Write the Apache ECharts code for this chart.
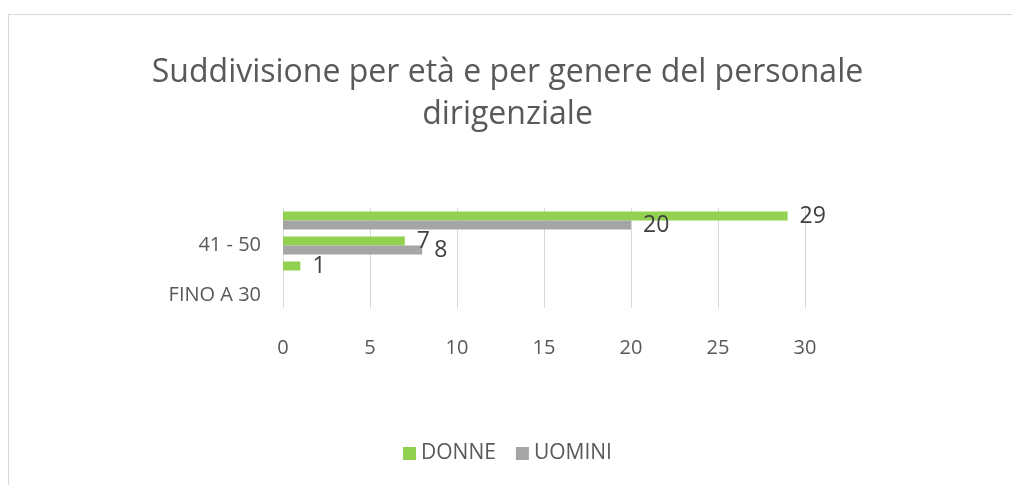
<!DOCTYPE html>
<html>
<head>
<meta charset="utf-8">
<script src="https://cdn.jsdelivr.net/npm/echarts@6/dist/echarts.min.js"></script>
<style>
html,body{margin:0;padding:0;background:#fff;}
#wrap{position:relative;width:1015px;height:485px;overflow:hidden;}
#frame{position:absolute;left:8px;top:14px;width:1004px;height:480px;border-left:1.5px solid #D9D9D9;border-top:1.5px solid #D9D9D9;box-sizing:border-box;}
#chart{position:absolute;left:0;top:0;width:1015px;height:485px;}
</style>
</head>
<body>
<div id="wrap"><div id="frame"></div><div id="chart"></div></div>
<script>
const titleText = 'Suddivisione per età e per genere del personale\ndirigenziale';
const categories = ['FINO A 30', '31 - 40', '41 - 50', 'OLTRE 50'];
const donne = [null, 1, 7, 29];
const uomini = [null, null, 8, 20];
const xTicks = { min: 0, max: 30, interval: 5 };

const font = '"Open Sans", "Noto Sans", sans-serif';
const chart = echarts.init(document.getElementById('chart'), null, { renderer: 'canvas' });
chart.setOption({
  backgroundColor: 'transparent',
  animation: false,
  textStyle: { fontFamily: font },
  title: {
    text: titleText,
    left: 'center',
    top: 47,
    textStyle: { fontFamily: font, fontSize: 32, fontWeight: 'normal', color: '#595959', lineHeight: 42 }
  },
  legend: {
    bottom: 16,
    left: 'center',
    itemWidth: 13,
    itemHeight: 13,
    itemGap: 20,
    icon: 'rect',
    textStyle: { fontFamily: font, fontSize: 21, color: '#595959' },
    data: ['DONNE', 'UOMINI']
  },
  grid: { left: 283, right: 210, top: 208, height: 100, containLabel: false },
  xAxis: {
    type: 'value',
    min: xTicks.min, max: xTicks.max, interval: xTicks.interval,
    axisLine: { show: false },
    axisTick: { show: false },
    splitLine: { lineStyle: { color: '#D9D9D9', width: 1 } },
    axisLabel: { fontFamily: font, fontSize: 20, color: '#595959', margin: 30 }
  },
  yAxis: {
    type: 'category',
    data: categories,
    axisLine: { show: false },
    axisTick: { show: false },
    axisLabel: { interval: 1, fontFamily: font, fontSize: 20, color: '#595959', margin: 22 }
  },
  series: [
    {
      name: 'DONNE', type: 'bar', data: donne, barWidth: 9, barGap: '0%',
      itemStyle: { color: '#92D050' },
      label: { show: true, position: 'right', fontFamily: font, fontSize: 23, color: '#404040', distance: 12 }
    },
    {
      name: 'UOMINI', type: 'bar', data: uomini, barWidth: 9, barGap: '0%',
      itemStyle: { color: '#A5A5A5' },
      label: { show: true, position: 'right', fontFamily: font, fontSize: 23, color: '#404040', distance: 12 }
    }
  ]
});
</script>
</body>
</html>
